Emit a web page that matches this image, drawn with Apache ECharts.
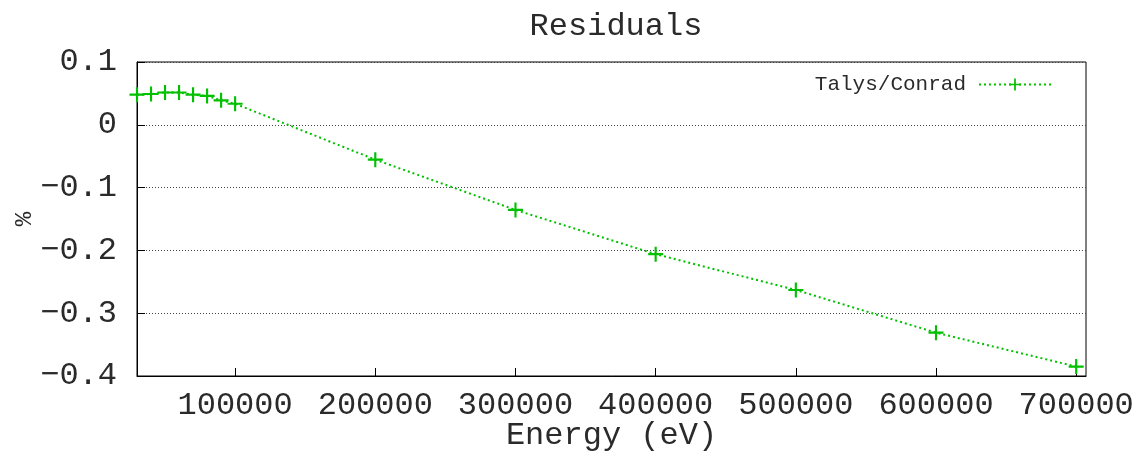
<!DOCTYPE html>
<html>
<head>
<meta charset="utf-8">
<script src="https://cdn.jsdelivr.net/npm/echarts@6/dist/echarts.min.js"></script>
<style>
  html, body { margin: 0; padding: 0; background: #fff; }
  #chart { width: 1138px; height: 465px; }
</style>
</head>
<body>
<div id="chart"></div>
<script>
// Energy points (eV) and Talys/Conrad residuals (%)
const energies = [30000, 40000, 50000, 60000, 70000, 80000, 90000, 100000,
                  200000, 300000, 400000, 500000, 600000, 700000];
const residuals = [0.048, 0.049, 0.0515, 0.0515, 0.048, 0.046, 0.039, 0.0335,
                   -0.0555, -0.1355, -0.206, -0.263, -0.331, -0.385];
const xTicks = [100000, 200000, 300000, 400000, 500000, 600000, 700000];
const seriesName = 'Talys/Conrad';

const FONT = '"Liberation Mono", "DejaVu Sans Mono", monospace';
const TEXT = '#2a2a2a';
const GREEN = '#00c000';
const PLUS = 'path://M-1,-7 L1,-7 L1,-1 L7,-1 L7,1 L1,1 L1,7 L-1,7 L-1,1 L-7,1 L-7,-1 L-1,-1 Z';

const chart = echarts.init(document.getElementById('chart'), null, { renderer: 'canvas' });

chart.setOption({
  animation: false,
  backgroundColor: '#fff',
  title: {
    text: 'Residuals',
    left: 611, top: 6,
    textAlign: 'center',
    textStyle: { fontFamily: FONT, fontSize: 32, fontWeight: 'normal', color: TEXT }
  },
  legend: {
    data: [seriesName],
    right: 81, top: 69,
    align: 'right',
    itemWidth: 72, itemHeight: 15,
    itemGap: 0,
    textStyle: { fontFamily: FONT, fontSize: 21, color: TEXT, padding: [0, 8, 0, 0] }
  },
  grid: {
    left: 137, right: 52, top: 62, bottom: 89,
    show: true, borderColor: '#000', borderWidth: 1,
    backgroundColor: 'transparent',
    containLabel: false
  },
  xAxis: {
    type: 'value',
    min: 30000, max: 707000,
    name: 'Energy (eV)',
    nameLocation: 'middle',
    nameGap: 60,
    nameMoveOverlap: false,
    nameTextStyle: { fontFamily: FONT, fontSize: 32, color: TEXT, verticalAlign: 'middle' },
    axisLine: { show: true, onZero: false, lineStyle: { color: '#000', width: 1 } },
    axisTick: { show: true, inside: true, length: 8, customValues: xTicks, lineStyle: { color: '#000' } },
    axisLabel: {
      customValues: xTicks,
      fontFamily: FONT, fontSize: 32, color: TEXT, margin: 14,
      formatter: v => String(Math.round(v))
    },
    splitLine: { show: false }
  },
  yAxis: {
    type: 'value',
    min: -0.4, max: 0.1, interval: 0.1,
    name: '%',
    nameLocation: 'middle',
    nameRotate: 90,
    nameGap: 112,
    nameMoveOverlap: false,
    nameTextStyle: { fontFamily: FONT, fontSize: 24, color: TEXT, verticalAlign: 'middle' },
    axisLine: { show: true, onZero: false, lineStyle: { color: '#000', width: 1 } },
    axisTick: { show: true, inside: true, length: 8, lineStyle: { color: '#000' } },
    axisLabel: {
      fontFamily: FONT, fontSize: 32, color: TEXT, margin: 20,
      formatter: v => {
        const r = Math.round(v * 10) / 10;
        if (r === 0) return '0';
        return r < 0 ? '\u2212' + Math.abs(r).toFixed(1) : r.toFixed(1);
      }
    },
    splitLine: { show: true, lineStyle: { color: '#444', width: 1, type: [1, 2] } }
  },
  series: [{
    name: seriesName,
    type: 'line',
    data: energies.map((e, i) => [e, residuals[i]]),
    symbol: PLUS,
    symbolSize: 15,
    showAllSymbol: true,
    itemStyle: { color: GREEN },
    lineStyle: { color: GREEN, width: 2, type: [2, 3] },
    emphasis: { disabled: true }
  }]
});
</script>
</body>
</html>
